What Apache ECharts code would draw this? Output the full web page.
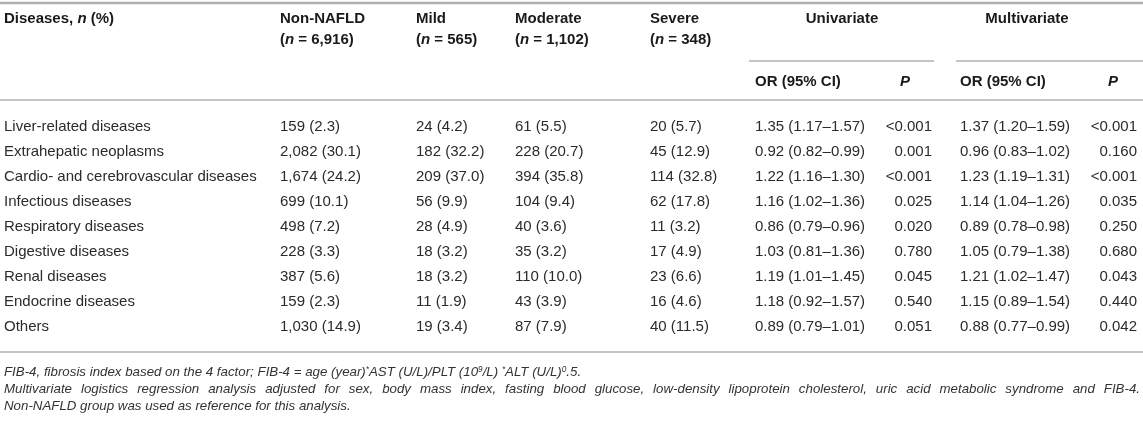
<!DOCTYPE html>
<html>
<head>
<meta charset="utf-8">
<script src="https://cdn.jsdelivr.net/npm/echarts@6/dist/echarts.min.js"></script>
<style>
html, body { margin: 0; padding: 0; background: #fff; }
#main { width: 1143px; height: 427px; }
</style>
</head>
<body>
<div id="main"></div>
<script>
// table content
var diseases = ['Liver-related diseases', 'Extrahepatic neoplasms', 'Cardio- and cerebrovascular diseases',
    'Infectious diseases', 'Respiratory diseases', 'Digestive diseases', 'Renal diseases',
    'Endocrine diseases', 'Others'];
var nonNafld = ['159 (2.3)', '2,082 (30.1)', '1,674 (24.2)', '699 (10.1)', '498 (7.2)', '228 (3.3)', '387 (5.6)', '159 (2.3)', '1,030 (14.9)'];
var mild = ['24 (4.2)', '182 (32.2)', '209 (37.0)', '56 (9.9)', '28 (4.9)', '18 (3.2)', '18 (3.2)', '11 (1.9)', '19 (3.4)'];
var moderate = ['61 (5.5)', '228 (20.7)', '394 (35.8)', '104 (9.4)', '40 (3.6)', '35 (3.2)', '110 (10.0)', '43 (3.9)', '87 (7.9)'];
var severe = ['20 (5.7)', '45 (12.9)', '114 (32.8)', '62 (17.8)', '11 (3.2)', '17 (4.9)', '23 (6.6)', '16 (4.6)', '40 (11.5)'];
var uniOr = ['1.35 (1.17–1.57)', '0.92 (0.82–0.99)', '1.22 (1.16–1.30)', '1.16 (1.02–1.36)', '0.86 (0.79–0.96)', '1.03 (0.81–1.36)', '1.19 (1.01–1.45)', '1.18 (0.92–1.57)', '0.89 (0.79–1.01)'];
var uniP = ['<0.001', '0.001', '<0.001', '0.025', '0.020', '0.780', '0.045', '0.540', '0.051'];
var multiOr = ['1.37 (1.20–1.59)', '0.96 (0.83–1.02)', '1.23 (1.19–1.31)', '1.14 (1.04–1.26)', '0.89 (0.78–0.98)', '1.05 (0.79–1.38)', '1.21 (1.02–1.47)', '1.15 (0.89–1.54)', '0.88 (0.77–0.99)'];
var multiP = ['<0.001', '0.160', '<0.001', '0.035', '0.250', '0.680', '0.043', '0.440', '0.042'];

var groupNames = ['Non-NAFLD', 'Mild', 'Moderate', 'Severe'];
var groupSizes = ['6,916', '565', '1,102', '348'];
var spanHeads = ['Univariate', 'Multivariate'];
var footnotes = [
    'FIB-4, fibrosis index based on the 4 factor; FIB-4 = age (year){s|*}AST (U/L)/PLT (10{s|9}/L) {s|*}ALT (U/L){s|0}.5.',
    'Multivariate logistics regression analysis adjusted for sex, body mass index, fasting blood glucose, low-density lipoprotein cholesterol, uric acid metabolic syndrome and FIB-4.',
    'Non-NAFLD group was used as reference for this analysis.'
];

// layout (pixel units on hidden axes)
var W = 1143, H = 427;
var FONT = '"Liberation Sans", Arial, Helvetica, sans-serif';
var colX = [4, 280, 416, 515, 650, 755, 932, 960, 1137];
var spanX = [[749, 934], [956, 1143]];
var spanCenter = [842, 1027];
var headY1 = 19, headY2 = 40, subLineY = 61, subHeadY = 82, headLineY = 100;
var rowY0 = 126.5, rowStep = 25.1;
var bottomLineY = 352;
var footY = [372, 389, 406];
var bodySize = 15, footSize = 13.3;

var cells = [];
var lines = [];

function cell(x, y, text, opt) {
    opt = opt || {};
    cells.push({
        x: x, y: y, text: text,
        align: opt.align || 'left',
        weight: opt.weight || 'normal',
        style: opt.style || 'normal',
        size: opt.size || bodySize,
        color: opt.color || '#2b2b2b'
    });
}

function richFor(c) {
    return {
        i: { fontFamily: FONT, fontSize: c.size, fontWeight: c.weight, fontStyle: 'italic', fill: c.color },
        s: { fontFamily: FONT, fontSize: c.size * 0.62, fontWeight: c.weight, fontStyle: c.style, fill: c.color, verticalAlign: 'top' }
    };
}

// header
var HEAD = { weight: 'bold', color: '#1a1a1a' };
cell(colX[0], headY1, 'Diseases, {i|n} (%)', HEAD);
groupNames.forEach(function (g, k) {
    cell(colX[k + 1], headY1, g, HEAD);
    cell(colX[k + 1], headY2, '({i|n} = ' + groupSizes[k] + ')', HEAD);
});
spanHeads.forEach(function (h, k) {
    cell(spanCenter[k], headY1, h, { weight: 'bold', color: '#1a1a1a', align: 'center' });
    lines.push([spanX[k][0], subLineY, spanX[k][1], subLineY, 1.6]);
});
cell(colX[5], subHeadY, 'OR (95% CI)', HEAD);
cell(colX[6] - 27, subHeadY, '{i|P}', { weight: 'bold', color: '#1a1a1a', align: 'center' });
cell(colX[7], subHeadY, 'OR (95% CI)', HEAD);
cell(colX[8] - 24, subHeadY, '{i|P}', { weight: 'bold', color: '#1a1a1a', align: 'center' });

lines.push([0, 3, W, 3, 2.5]);
lines.push([0, headLineY, W, headLineY, 1.6]);

// body
var columns = [diseases, nonNafld, mild, moderate, severe, uniOr, uniP, multiOr, multiP];
var aligns = ['left', 'left', 'left', 'left', 'left', 'left', 'right', 'left', 'right'];
diseases.forEach(function (d, r) {
    var y = rowY0 + r * rowStep;
    columns.forEach(function (col, c) {
        cell(colX[c], y, col[r], { align: aligns[c] });
    });
});
lines.push([0, bottomLineY, W, bottomLineY, 1.6]);

// footnotes (second one justified across the full width)
var measureCtx = document.createElement('canvas').getContext('2d');
measureCtx.font = 'italic ' + footSize + 'px ' + FONT;
footnotes.forEach(function (f, k) {
    var opt = { style: 'italic', size: footSize, color: '#333' };
    if (k === 1) {
        var words = f.split(' ');
        var widths = words.map(function (w) { return measureCtx.measureText(w).width; });
        var total = widths.reduce(function (a, b) { return a + b; }, 0);
        var left = colX[0], right = W - 3;
        var gap = (right - left - total) / (words.length - 1);
        var x = left;
        words.forEach(function (w, j) {
            cell(x, footY[k], w, opt);
            x += widths[j] + gap;
        });
    } else {
        cell(colX[0], footY[k], f, opt);
    }
});

var chart = echarts.init(document.getElementById('main'), null, { renderer: 'canvas' });
chart.setOption({
    backgroundColor: '#fff',
    animation: false,
    grid: { left: 0, right: 0, top: 0, bottom: 0 },
    xAxis: { type: 'value', min: 0, max: W, show: false },
    yAxis: { type: 'value', min: 0, max: H, inverse: true, show: false },
    series: [
        {
            type: 'custom',
            silent: true,
            data: lines.map(function (l) { return [l[0], l[1], l[2], l[3], l[4]]; }),
            renderItem: function (params, api) {
                var a = api.coord([api.value(0), api.value(1)]);
                var b = api.coord([api.value(2), api.value(3)]);
                return {
                    type: 'line',
                    shape: { x1: a[0], y1: a[1], x2: b[0], y2: b[1] },
                    style: { stroke: '#b0b0b0', lineWidth: api.value(4) }
                };
            }
        },
        {
            type: 'custom',
            silent: true,
            data: cells.map(function (c) { return [c.x, c.y]; }),
            renderItem: function (params, api) {
                var c = cells[params.dataIndex];
                var p = api.coord([api.value(0), api.value(1)]);
                return {
                    type: 'text',
                    style: {
                        x: p[0], y: p[1],
                        text: c.text,
                        fill: c.color,
                        fontFamily: FONT,
                        fontSize: c.size,
                        fontWeight: c.weight,
                        fontStyle: c.style,
                        align: c.align,
                        verticalAlign: 'middle',
                        rich: richFor(c)
                    }
                };
            }
        }
    ]
});
</script>
</body>
</html>
